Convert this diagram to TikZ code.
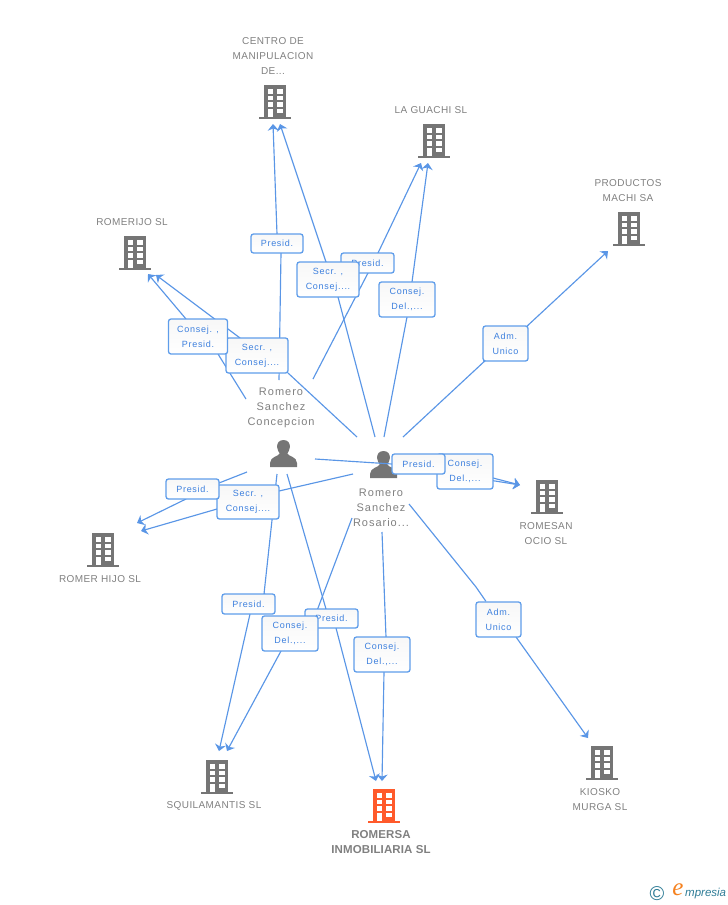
\documentclass[tikz,border=0pt]{standalone}
\usepackage{fontspec}
\setmainfont{Liberation Sans}
\newfontfamily\lblf[LetterSpace=8]{Liberation Sans}
\newfontfamily\namef[LetterSpace=4]{Liberation Sans}
\newfontfamily\persf[LetterSpace=9]{Liberation Sans}
\newfontfamily\boldf[LetterSpace=1,BoldFont={Liberation Sans Bold}]{Liberation Sans}
\newfontfamily\logoserif{Liberation Serif}
\usetikzlibrary{arrows.meta,shapes.geometric}
\pgfdeclarelayer{icons}
\pgfdeclarelayer{lines}
\pgfsetlayers{icons,lines,main}
\definecolor{linkc}{HTML}{5A96E6}
\definecolor{boxc}{HTML}{5F9DEA}
\definecolor{txtc}{HTML}{3D80DE}
\definecolor{grayc}{HTML}{808080}
\definecolor{iconc}{HTML}{757575}
\definecolor{mainc}{HTML}{FF5A2B}
\definecolor{logot}{HTML}{2E7C96}
\definecolor{logoo}{HTML}{F58220}
\tikzset{
  link/.style={draw=linkc,line width=1.15pt,line join=round,-{Stealth[length=6.5pt,width=11pt,inset=2pt]}},
  rolebox/.style={draw=boxc,line width=1.3pt,rounded corners=2.5pt,top color=black!3,bottom color=white,
    inner sep=0pt,align=center,text=txtc,font=\lblf\fontsize{9}{15}\selectfont},
  coname/.style={inner sep=0pt,align=center,text=grayc,font=\namef\fontsize{10}{15}\selectfont},
  mainname/.style={inner sep=0pt,align=center,text=grayc,font=\boldf\bfseries\fontsize{11.5}{15}\selectfont},
  persname/.style={inner sep=0pt,align=center,text=grayc,font=\persf\fontsize{11}{15}\selectfont},
  anchorbox/.style={inner sep=0pt,minimum width=32pt,minimum height=34pt},
}
% building icon: name, centre x, top y, colour
\newcommand\bldg[4]{%
  \node[anchorbox] (#1) at (#2,#3+17) {};
  \begin{pgfonlayer}{icons}
  \begin{scope}[shift={(#2,#3)}]
    \fill[#4] (-11.3,0) rectangle (11.3,32.5);
    \fill[#4] (-16,32) rectangle (16,34);
    \foreach \yy in {4.3,10.7,17.3}{
      \fill[white] (-7.5,\yy) rectangle (-2.3,\yy+4.2);
      \fill[white] (2.3,\yy) rectangle (7.5,\yy+4.2);
    }
    \fill[white] (2.3,23.7) rectangle (7.5,28);
    \fill[white] (-7.5,23.7) rectangle (-2.3,32);
  \end{scope}
  \end{pgfonlayer}
}
% person icon: name, centre x, top y
\newcommand\persn[3]{%
  \node[inner sep=0pt,minimum width=27pt,minimum height=27pt] (#1) at (#2,#3+13.5) {};
  \begin{pgfonlayer}{icons}
  \begin{scope}[shift={(#2,#3)}]
    \fill[iconc] (0,0) .. controls (-4.8,0) and (-6.6,3.5) .. (-6.4,7)
      .. controls (-6.2,10) and (-4.8,12) .. (-3.8,13.5)
      .. controls (-4,16) and (-13.5,16.5) .. (-13.5,23) -- (-13.5,27) -- (13.5,27) -- (13.5,23)
      .. controls (13.5,16.5) and (4,16) .. (3.8,13.5)
      .. controls (4.8,12) and (6.2,10) .. (6.4,7)
      .. controls (6.6,3.5) and (4.8,0) .. (0,0) -- cycle;
  \end{scope}
  \end{pgfonlayer}
}
% connector: id, label node, start, entry into box, exit from box, end
\newcommand\conn[6]{%
  \coordinate (#1s) at (#3);
  \coordinate (#1i) at (#4);
  \coordinate (#1o) at (#5);
  \coordinate (#1e) at (#6);
  \begin{pgfonlayer}{lines}
  \draw[link] (#1s) -- (#1i) -- (#2) -- (#1o) -- (#1e);
  \end{pgfonlayer}
}
\begin{document}
\begin{tikzpicture}[x=1pt,y=-1pt]
\useasboundingbox (0,0) rectangle (728,905);
% buildings
\bldg{bCentro}{275}{85}{iconc}
\bldg{bGuachi}{434}{124}{iconc}
\bldg{bMachi}{629}{212}{iconc}
\bldg{bRomerijo}{135}{236}{iconc}
\bldg{bRomesan}{547}{480}{iconc}
\bldg{bHijo}{103}{533}{iconc}
\bldg{bSquila}{217}{760}{iconc}
\bldg{bRomersa}{384}{789}{mainc}
\bldg{bKiosko}{602}{746}{iconc}
% persons
\persn{pConc}{283.5}{440}
\persn{pRos}{383.5}{451}
% company names
\node[coname] (tCentro) at (273,56) {CENTRO DE\\MANIPULACION\\DE...};
\node[coname] (tGuachi) at (431,110) {LA GUACHI SL};
\node[coname] (tMachi) at (628,190.5) {PRODUCTOS\\MACHI SA};
\node[coname] (tRomerijo) at (132,222) {ROMERIJO SL};
\node[coname] (tRomesan) at (546,533.5) {ROMESAN\\OCIO SL};
\node[coname] (tHijo) at (100,579) {ROMER HIJO SL};
\node[coname] (tSquila) at (214,806) {SQUILAMANTIS SL};
\node[mainname] (tRomersa) at (381,842) {ROMERSA\\INMOBILIARIA SL};
\node[coname] (tKiosko) at (600,799.5) {KIOSKO\\MURGA SL};
\node[persname] (tConc) at (281,407.5) {Romero\\Sanchez\\Concepcion};
\node[persname] (tRos) at (381,507.5) {Romero\\Sanchez\\Rosario...};
% role boxes, lower ones first
\node[rolebox,minimum width=52pt,minimum height=19pt] (r1) at (277,243.5) {Presid.};
\node[rolebox,minimum width=53pt,minimum height=20pt] (r3) at (367.5,263) {Presid.};
\node[rolebox,minimum width=62pt,minimum height=35pt] (r2) at (328,279.5) {Secr. ,\\Consej....};
\node[rolebox,minimum width=56pt,minimum height=35pt] (r4) at (407,299.5) {Consej.\\Del.,...};
\node[rolebox,minimum width=45pt,minimum height=35pt] (r5) at (505.5,343.5) {Adm.\\Unico};
\node[rolebox,minimum width=62pt,minimum height=35pt] (r7) at (257,355.5) {Secr. ,\\Consej....};
\node[rolebox,minimum width=59pt,minimum height=35pt] (r6) at (198,336.5) {Consej. ,\\Presid.};
\node[rolebox,minimum width=62pt,minimum height=34pt] (r9) at (248,502) {Secr. ,\\Consej....};
\node[rolebox,minimum width=53pt,minimum height=20pt] (r8) at (192.5,489) {Presid.};
\node[rolebox,minimum width=56pt,minimum height=35pt] (r11) at (465,471.5) {Consej.\\Del.,...};
\node[rolebox,minimum width=53pt,minimum height=20pt] (r10) at (418.5,464) {Presid.};
\node[rolebox,minimum width=53pt,minimum height=20pt] (r12) at (248.5,604) {Presid.};
\node[rolebox,minimum width=53pt,minimum height=19pt] (r13) at (331.5,618.5) {Presid.};
\node[rolebox,minimum width=56pt,minimum height=35pt] (r14) at (290,633.5) {Consej.\\Del.,...};
\node[rolebox,minimum width=56pt,minimum height=35pt] (r15) at (382,654.5) {Consej.\\Del.,...};
\node[rolebox,minimum width=45pt,minimum height=35pt] (r16) at (498.5,619.5) {Adm.\\Unico};
% connectors
\conn{c1}{r1}{279,380}{281,253}{277,234}{273,124}
\conn{c2}{r2}{375,437}{338,297}{326,262}{280,124}
\conn{c3}{r3}{313,379}{368,273}{378,253}{421,163}
\conn{c4}{r4}{384,437}{407,317}{412,282}{428,163}
\conn{c5}{r5}{403,437}{488,358}{525,328}{608,251}
\conn{c6}{r6}{246,399}{218,354}{186,319}{148,274}
\conn{c7}{r7}{357,437}{288,373}{240,338}{156,275}
\conn{c8}{r8}{247,472}{219,483}{186,499}{137,523}
\conn{c9}{r9}{353,474}{279,491}{217,509}{141,531}
\conn{c10}{r10}{315,459}{392,464}{445,473}{520,485}
\conn{c11}{r11}{398,462}{437,468}{493,478}{520,485}
\conn{c12}{r12}{277,474}{264,594}{250,614}{219,751}
\conn{c13}{r13}{287,474}{326,609}{336,628}{376,781}
\conn{c14}{r14}{352,518}{315,616}{281,651}{227,751}
\conn{c15}{r15}{382,532}{386,637}{384,672}{382,781}
\conn{c16}{r16}{409,504}{476,587}{516,637}{588,738}
% logo
\node[inner sep=0pt,text=logot,font=\fontsize{20}{20}\selectfont] (lCopy) at (657,893.5) {©};
\node[inner sep=0pt,text=logoo,font=\logoserif\itshape\fontsize{25}{25}\selectfont] (lE) at (678,890) {e};
\node[inner sep=0pt,anchor=west,text=logot,font=\itshape\fontsize{11.5}{14}\selectfont] (lRest) at (685,894) {mpresia};
\end{tikzpicture}
\end{document}
